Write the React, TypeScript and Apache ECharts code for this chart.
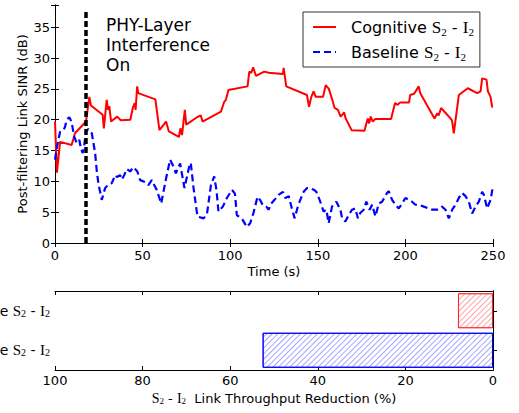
import React, { useEffect, useRef } from 'react';
import * as echarts from 'echarts';

// ---- Data ----
const cognitiveTime = [0, 1.1, 2.9, 9.5, 11.4, 17.7, 19.6, 20.5, 27.2, 27.9, 29.5, 30.3, 31, 32, 35.5, 37.5, 43, 44.4, 45.5, 46, 46.9, 47.5, 57.3, 59.6, 63.4, 65, 70.7, 71.6, 72.5, 74.1, 74.9, 81.1, 83.2, 84.2, 94.7, 96.6, 97.5, 99, 109.9, 110.9, 112, 113.1, 114.7, 119.4, 122, 130.1, 130.5, 132, 143.8, 145, 146.3, 147.6, 148.8, 153, 154.5, 156.3, 158.3, 159.6, 161.5, 163, 164, 165, 165.9, 167, 169.3, 176.6, 178.5, 179.3, 180.2, 181.4, 182.7, 191.8, 194.1, 195.6, 197, 202.1, 202.7, 205, 207.6, 208.5, 216.6, 218.1, 219, 220.4, 225.7, 226.6, 227.6, 228, 230.5, 235.6, 241, 242.9, 243.8, 246.3, 247.1, 248.6, 249.5, 250];
const cognitiveSinr = [19.7, 11.4, 16.4, 15.9, 17.8, 19.7, 23.7, 22.3, 20.8, 18.6, 23.2, 21.6, 22.2, 19.7, 20.5, 19.9, 20.0, 21.9, 22.7, 21.6, 25.4, 24.3, 23.3, 18.3, 19.7, 18.1, 17.2, 18.6, 17.5, 21.6, 19.2, 20.4, 20.7, 19.7, 21.3, 22.9, 23.2, 24.8, 25.4, 27.8, 27.6, 28.5, 27.1, 27.8, 27.6, 27.4, 28.4, 25.4, 24.0, 22.1, 23.7, 24.6, 23.7, 23.7, 25.6, 25.0, 23.2, 21.9, 21.6, 20.5, 20.8, 21.2, 20.2, 19.6, 18.3, 18.2, 20.2, 19.4, 20.5, 19.7, 20.1, 20.1, 22.7, 22.4, 22.8, 22.8, 24.0, 24.2, 25.4, 24.3, 20.2, 21.0, 20.7, 21.9, 20.2, 19.9, 17.8, 18.6, 24.0, 25.1, 24.3, 24.6, 26.7, 26.5, 24.6, 23.7, 22.1, 22.1];

const baselineTime = [0, 0.8, 1.9, 2.9, 4.8, 5.7, 6.7, 8.2, 9.5, 10.9, 12.4, 13.9, 14.7, 15.8, 16.6, 17.7, 19.0, 21.0, 22.9, 23.8, 24.8, 26.7, 28.6, 30.5, 32.4, 33.3, 34.3, 35.3, 37.2, 38.1, 39.5, 41, 42.9, 44.8, 47, 48.6, 51.4, 53.3, 55.2, 58.1, 60.6, 63.2, 65.7, 67.6, 69, 71.4, 73.9, 76.6, 77.5, 79, 81.3, 84.8, 86.7, 89, 90.9, 92.2, 93.3, 95.8, 98.1, 101, 102.7, 103.8, 106.6, 109.5, 111.4, 113.3, 115.6, 117, 118.5, 120.6, 121.9, 123.4, 125.3, 127.6, 130.1, 131.5, 133.4, 135.2, 136.8, 138.3, 139.6, 141.9, 143.8, 145.7, 147.9, 149.2, 151.4, 153.3, 154.9, 156.2, 158.1, 160.6, 162.9, 163.9, 165.7, 167.6, 169.5, 171.4, 172.9, 174.3, 176.2, 177.7, 179.6, 181, 182.9, 184.8, 186.7, 189.5, 190.5, 192.4, 194.3, 196.2, 198.1, 200, 201.9, 203.8, 205.7, 207.6, 210.5, 213.3, 215.2, 218.1, 220.9, 222.9, 224.8, 226.7, 228.6, 230.5, 232.4, 234.3, 236.2, 238.1, 240, 241.9, 243.8, 244.8, 246.7, 248.6, 249.9];
const baselineSinr = [13.5, 15.0, 16.7, 18.0, 18.3, 18.8, 20.0, 20.4, 19.6, 17.3, 16.2, 16.7, 15.4, 14.6, 15.6, 18.1, 18.5, 17.8, 14.6, 11.8, 9.6, 7.0, 8.9, 9.5, 9.7, 10.3, 11.0, 10.7, 11.0, 10.3, 11.0, 12.0, 11.6, 12.3, 11.6, 10.2, 9.9, 9.4, 10.2, 8.6, 6.4, 10.2, 13.5, 12.4, 11.3, 12.9, 8.9, 12.4, 13.0, 9.1, 4.3, 4.0, 4.6, 9.4, 10.8, 8.5, 5.1, 5.9, 7.3, 8.6, 8.0, 4.5, 4.0, 2.6, 3.2, 4.9, 7.5, 7.0, 6.2, 5.9, 5.4, 6.4, 7.0, 7.8, 8.3, 7.3, 7.6, 5.6, 4.0, 5.6, 6.7, 8.3, 8.9, 8.9, 8.6, 8.3, 6.7, 5.1, 5.4, 3.2, 5.9, 6.7, 5.4, 4.0, 3.5, 4.5, 5.4, 5.6, 4.0, 4.9, 5.4, 6.7, 5.4, 6.2, 4.3, 6.4, 6.7, 8.1, 8.4, 7.0, 6.2, 5.6, 6.4, 7.3, 7.0, 6.7, 6.2, 6.2, 5.9, 5.6, 5.4, 5.4, 5.9, 5.4, 4.0, 5.4, 6.2, 7.3, 8.1, 7.6, 6.7, 4.8, 5.9, 6.7, 8.3, 7.8, 5.6, 7.0, 9.1];

const interferenceOnTime = 17.5;
const interferenceLineTop = 37.5;

const reductionCategories = ['Baseline', 'Cognitive'];
const reductionValues = [52.6, 8.0];

const SANS = 'DejaVu Sans';
const SERIF = 'Liberation Serif';

const richFor = (size: number) => ({
  tf: { fontFamily: SANS, fontSize: size, color: '#000', padding: [0, 0, 0, 10] },
  t: { fontFamily: SANS, fontSize: size, color: '#000' },
  m: { fontFamily: SERIF, fontSize: size + 1, color: '#000' },
  s: { fontFamily: SERIF, fontSize: Math.round(size * 0.68), color: '#000', verticalAlign: 'bottom' },
});

const subLabel = (prefix: string, first = 't') =>
  `{${first}|${prefix} }{m|S}{s|2}{t| - }{m|I}{s|2}`;

const zip = (xs: number[], ys: number[]) => xs.map((x, i) => [x, ys[i]]);

export default function App() {
  const ref = useRef<HTMLDivElement>(null);

  useEffect(() => {
    if (!ref.current) return;
    const chart = echarts.init(ref.current, undefined, { renderer: 'svg' });

    const axisLine = { show: true, lineStyle: { color: '#000', width: 1 } };
    const tickIn = { show: true, inside: true, length: 4, lineStyle: { color: '#000' } };
    const labelStyle = { fontFamily: SANS, fontSize: 13, color: '#000' };

    const option: any = {
      animation: false,
      backgroundColor: '#fff',
      grid: [
        { left: 55, top: 5, width: 438, height: 238, containLabel: false, outerBoundsMode: 'none' },
        { left: 55, top: 291, width: 438, height: 79, containLabel: false, outerBoundsMode: 'none' },
      ],
      legend: {
        data: ['Cognitive', 'Baseline'],
        orient: 'vertical',
        left: 303,
        top: 12,
        width: 184,
        padding: [5, 6, 5, 9],
        itemGap: 5,
        itemWidth: 23,
        itemHeight: 14,
        borderColor: '#333',
        borderWidth: 1,
        borderRadius: 0,
        backgroundColor: '#fff',
        itemStyle: { opacity: 0 },
        formatter: (name: string) => subLabel(name, 'tf'),
        textStyle: { rich: richFor(16), lineHeight: 20 },
      },
      xAxis: [
        {
          gridIndex: 0, type: 'value', min: 0, max: 250, interval: 50, position: 'bottom',
          axisLine, axisTick: tickIn, splitLine: { show: false },
          axisLabel: { ...labelStyle, margin: 6 },
          name: 'Time (s)', nameLocation: 'middle', nameGap: 22, nameMoveOverlap: false,
          nameTextStyle: { fontFamily: SANS, fontSize: 13, color: '#000' },
        },
        {
          gridIndex: 0, type: 'value', min: 0, max: 250, interval: 50, position: 'top',
          axisLine, axisTick: tickIn, splitLine: { show: false }, axisLabel: { show: false },
        },
        {
          gridIndex: 1, type: 'value', min: 0, max: 100, interval: 20, inverse: true, position: 'bottom',
          axisLine, axisTick: tickIn, splitLine: { show: false },
          axisLabel: { ...labelStyle, margin: 4 },
          name: '{m|S}{s|2}{t| - }{m|I}{s|2}{t|  Link Throughput Reduction (%)}',
          nameLocation: 'middle', nameGap: 21, nameMoveOverlap: false,
          nameTextStyle: { rich: richFor(13) },
        },
        {
          gridIndex: 1, type: 'value', min: 0, max: 100, interval: 20, inverse: true, position: 'top',
          axisLine, axisTick: tickIn, splitLine: { show: false }, axisLabel: { show: false },
        },
      ],
      yAxis: [
        {
          gridIndex: 0, type: 'value', min: 0, max: 38.6, interval: 5, position: 'left',
          axisLine, axisTick: tickIn, splitLine: { show: false },
          axisLabel: { ...labelStyle, margin: 5, formatter: (v: number) => (v % 5 === 0 ? String(v) : '') },
          name: 'Post-filtering Link SINR (dB)', nameLocation: 'middle', nameGap: 26, nameMoveOverlap: false,
          nameTextStyle: { fontFamily: SANS, fontSize: 13, color: '#000' },
        },
        {
          gridIndex: 0, type: 'value', min: 0, max: 38.6, interval: 5, position: 'right',
          axisLine, axisTick: tickIn, splitLine: { show: false }, axisLabel: { show: false },
        },
        {
          gridIndex: 1, type: 'category', data: reductionCategories, position: 'left',
          axisLine, axisTick: { ...tickIn, alignWithLabel: true }, splitLine: { show: false },
          axisLabel: { margin: 5, formatter: (v: string) => subLabel(v), rich: richFor(14) },
        },
        {
          gridIndex: 1, type: 'category', data: reductionCategories, position: 'right',
          axisLine, axisTick: { ...tickIn, alignWithLabel: true }, splitLine: { show: false },
          axisLabel: { show: false },
        },
      ],
      graphic: [
        {
          type: 'text', left: 106, top: 15,
          style: {
            text: 'PHY-Layer\nInterference\nOn',
            font: `17px "${SANS}"`, fill: '#000', lineHeight: 20,
          },
        },
      ],
      series: [
        {
          name: 'Cognitive', type: 'line', xAxisIndex: 0, yAxisIndex: 0,
          data: zip(cognitiveTime, cognitiveSinr), symbol: 'none',
          lineStyle: { color: '#ff0000', width: 2 }, itemStyle: { color: '#ff0000' },
        },
        {
          name: 'Baseline', type: 'line', xAxisIndex: 0, yAxisIndex: 0,
          data: zip(baselineTime, baselineSinr), symbol: 'none',
          lineStyle: { color: '#0000ff', width: 2.2, type: [7, 4] }, itemStyle: { color: '#0000ff' },
          markLine: {
            silent: true, symbol: ['none', 'none'], label: { show: false },
            lineStyle: { color: '#000', width: 3.5, type: [6, 3] },
            data: [[{ coord: [interferenceOnTime, 0] }, { coord: [interferenceOnTime, interferenceLineTop] }]],
          },
        },
        {
          name: 'Reduction', type: 'bar', xAxisIndex: 2, yAxisIndex: 2, barWidth: 35,
          data: reductionValues.map((v, i) => ({
            value: v,
            itemStyle: i === 0
              ? {
                  color: '#fff', borderColor: '#0000ff', borderWidth: 1,
                  decal: { symbol: 'rect', symbolSize: 1, dashArrayX: [1, 0], dashArrayY: [1, 3], rotation: -Math.PI / 4, color: 'rgba(90,90,255,0.55)', backgroundColor: '#fff' },
                }
              : {
                  color: '#fff', borderColor: 'rgba(255,0,0,0.65)', borderWidth: 1,
                  decal: { symbol: 'rect', symbolSize: 1, dashArrayX: [1, 0], dashArrayY: [1, 3], rotation: -Math.PI / 4, color: 'rgba(255,90,90,0.55)', backgroundColor: '#fff' },
                },
          })),
        },
      ],
    };

    chart.setOption(option);
    return () => chart.dispose();
  }, []);

  return (
    <div
      ref={ref}
      style={{ position: 'absolute', left: 0, top: 0, width: 519, height: 413 }}
    />
  );
}
